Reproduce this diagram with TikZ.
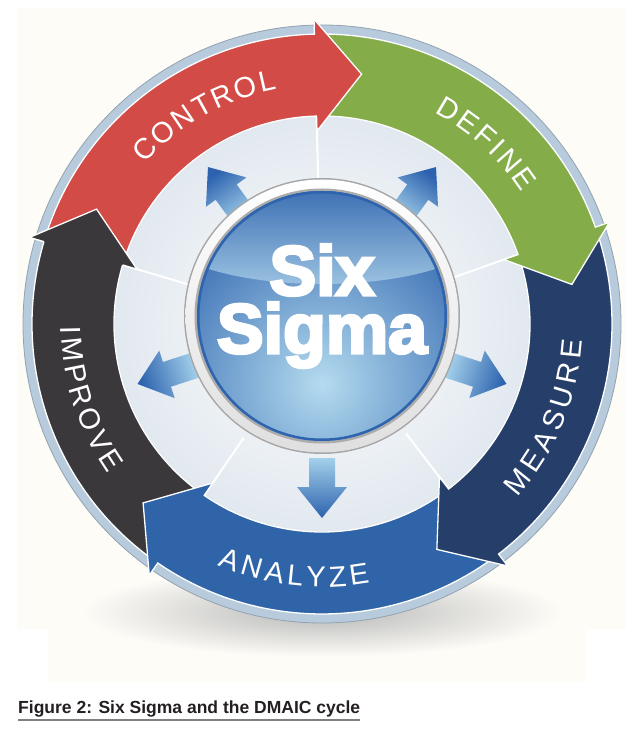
\documentclass[tikz,border=0pt]{standalone}
\usepackage{fontspec}
\usepackage{tikz}
\usetikzlibrary{calc, positioning, decorations.text}
\setmainfont{Liberation Sans}
\newfontfamily\bandfont{Liberation Sans}
\newcommand\heavytext[1]{\special{pdf:literal direct 2 Tr 3 w 1 G}#1\special{pdf:literal direct 0 Tr}}
\definecolor{cream}{HTML}{FDFCF7}
\definecolor{rim}{HTML}{B7CBDD}
\definecolor{disc}{HTML}{E1E8EF}
\definecolor{control}{HTML}{D24B46}
\definecolor{define}{HTML}{84AD4A}
\definecolor{measure}{HTML}{263F6A}
\definecolor{analyze}{HTML}{2F65A8}
\definecolor{improve}{HTML}{3B383C}
\definecolor{deep}{HTML}{2E63AD}
\definecolor{glow}{HTML}{B4DBEF}
\definecolor{pale}{HTML}{BEE0F1}
\definecolor{tipblue}{HTML}{2C62AE}
\definecolor{baseblue}{HTML}{A3D0EA}
\definecolor{captext}{HTML}{231F20}

\begin{document}
\begin{tikzpicture}[x=1pt, y=1pt,
  band/.style={draw=white, line width=1.3pt},
  lbl/.style={decorate, decoration={text along path, text color=white, text align={fit to path}, text={|\bandfont\fontsize{29}{32}\selectfont|#1}}},
  big/.style={text=white, font=\bfseries\fontsize{70}{70}\selectfont, inner sep=0pt, anchor=base},
  ray/.style={top color=tipblue, bottom color=baseblue}]

\useasboundingbox (-322,-406) rectangle (307,324);
% backdrop
\fill[cream] (-305,316) rectangle (304,-305);
\fill[cream] (-274,-305) rectangle (264,-358);
\shade[inner color=black!28, outer color=cream] (0,-288) ellipse (240 and 45);
\fill[rim] (0,0) circle (299);
\draw[rim!80!black, line width=0.8pt] (0,0) circle (299);
\shade[inner color=white, outer color=disc] (0,0) circle (209);

% faint sector lines
\foreach \a in {91.5,19.5,-52.5,-124.5,163.5}
  \draw[white, line width=2pt] (\a:138) -- (\a:208);

% rays
\foreach \a in {-90,-18,54,126,198}{
  \pgfmathsetmacro\sa{\a-90}
  \begin{scope}[rotate=\a]
    \shade[ray, shading angle=\sa] (134,-13) -- (163,-13) -- (163,-25) -- (194,0) -- (163,25) -- (163,13) -- (134,13) -- cycle;
  \end{scope}}

% centre button
\fill[gray!70] (0,8) circle (138);
\shade[top color=white, bottom color=gray!25] (0,8) circle (136.5);
\fill[gray!65] (0,8) circle (127.5);
\begin{scope}
  \clip (0,8) circle (125);
  \shade[inner color=glow, outer color=deep] (0,-60) circle (200);
  \shade[top color=deep, middle color=pale, bottom color=pale!75!deep] (0,95) ellipse (165 and 55);
  \draw[deep, line width=3pt] (0,8) circle (124);
\end{scope}
\node[big] (six) at (0,29) {\heavytext{Six}};
\node[big] (sigma) at (0,-29) {\heavytext{Sigma}};

% DMAIC arrows
\foreach \col/\ta/\tb in {improve/234.5/163.5, analyze/-53.5/-124.5, measure/18.5/-52.5, define/90.5/19.5, control/162.5/91.5}
  \filldraw[band, fill=\col] (\ta:290) arc[start angle=\ta, end angle=\tb, radius=290] -- (\tb:305) -- ({\tb-10.5}:253) -- (\tb:193) -- (\tb:208) arc[start angle=\tb, end angle=\ta, radius=208] -- cycle;
\fill[improve] (163.5:305) -- (153:253) -- (163.5:193) -- cycle;
\draw[band] (163.5:208) -- (163.5:193) -- (153:253) -- (163.5:305) -- (163.5:290);

% labels
\path[lbl=CONTROL] (138:239) arc[start angle=138, end angle=100.8, radius=239];
\path[lbl=DEFINE] (62:239) arc[start angle=62, end angle=33.3, radius=239];
\path[lbl=MEASURE] (-41.7:261) arc[start angle=-41.7, end angle=-3.6, radius=261];
\path[lbl=ANALYZE] (-113.3:263) arc[start angle=-113.3, end angle=-79.5, radius=263];
\path[lbl=IMPROVE] (180.5:261) arc[start angle=180.5, end angle=215, radius=261];

% caption
\node[font=\bfseries\fontsize{17.5}{20}\selectfont, text=captext, inner sep=0pt, anchor=base west] (cap) at (-304,-389) {Figure 2: Six Sigma and the DMAIC cycle};
\draw[gray, line width=1.3pt] ([yshift=-7]cap.base west) -- ([yshift=-7]cap.base east);
\end{tikzpicture}
\end{document}
